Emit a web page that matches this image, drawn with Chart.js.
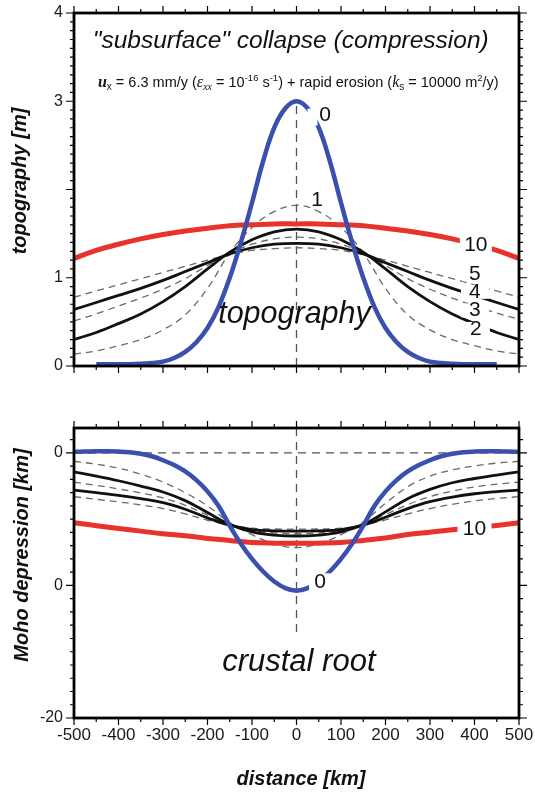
<!DOCTYPE html>
<html>
<head>
<meta charset="utf-8">
<script src="https://cdn.jsdelivr.net/npm/chart.js@4.4.1/dist/chart.umd.min.js"></script>
<style>
  html, body { margin: 0; padding: 0; background: #fff; }
  #wrap { position: relative; width: 535px; height: 793px; overflow: hidden; }
  canvas { position: absolute; left: 0; }
  #topo { top: 0; }
  #moho { top: 400px; }
</style>
</head>
<body>
<div id="wrap">
  <canvas id="topo" width="535" height="400" style="width:535px;height:400px"></canvas>
  <canvas id="moho" width="535" height="393" style="width:535px;height:393px"></canvas>
</div>
<script>
// ---- distances along the profile (km) ----
const distance = [-500,-450,-400,-350,-300,-250,-200,-150,-100,-50,0,50,100,150,200,250,300,350,400,450,500];
const distanceBlueTopo = [-450,-425,-400,-375,-350,-325,-300,-275,-250,-225,-200,-175,-150,-125,-100,-75,-50,-25,0,
                          25,50,75,100,125,150,175,200,225,250,275,300,325,350,375,400,425,450];
const distanceBlueMoho = [-500,-475,-450,-425,-400,-375,-350,-325,-300,-275,-250,-225,-200,-175,-150,-125,-100,-75,-50,-25,0,
                          25,50,75,100,125,150,175,200,225,250,275,300,325,350,375,400,425,450,475,500];

// ---- topography (m) after 0, 1, 2, 3, 4, 5 and 10 time steps ----
const topo0 = [0.02,0.02,0.02,0.02,0.025,0.035,0.05,0.09,0.16,0.27,0.43,0.67,1.00,1.40,1.85,2.32,2.70,2.92,3.00,
               2.92,2.70,2.32,1.85,1.40,1.00,0.67,0.43,0.27,0.16,0.09,0.05,0.035,0.025,0.02,0.02,0.02,0.02];
const topo1  = [0.135,0.17,0.23,0.30,0.41,0.58,0.88,1.28,1.57,1.75,1.82,1.75,1.57,1.28,0.88,0.58,0.41,0.30,0.23,0.17,0.135];
const topo2  = [0.30,0.38,0.48,0.59,0.73,0.90,1.10,1.29,1.43,1.52,1.55,1.52,1.43,1.29,1.10,0.90,0.73,0.59,0.48,0.38,0.30];
const topo3  = [0.51,0.59,0.68,0.77,0.87,0.99,1.14,1.28,1.38,1.44,1.46,1.44,1.38,1.28,1.14,0.99,0.87,0.77,0.68,0.60,0.53];
const topo4  = [0.64,0.72,0.80,0.88,0.97,1.07,1.17,1.27,1.34,1.38,1.39,1.38,1.34,1.27,1.17,1.07,0.97,0.88,0.80,0.72,0.64];
const topo5  = [0.78,0.85,0.92,0.99,1.06,1.13,1.20,1.26,1.31,1.33,1.34,1.33,1.31,1.26,1.20,1.13,1.06,0.99,0.92,0.85,0.78];
const topo10 = [1.22,1.31,1.38,1.44,1.49,1.53,1.56,1.59,1.60,1.61,1.61,1.61,1.60,1.59,1.56,1.53,1.49,1.44,1.38,1.31,1.22];

// ---- Moho depression (km) for the same steps ----
const moho0 = [0.08,0.10,0.12,0.12,0.10,0.05,-0.06,-0.25,-0.55,-0.92,-1.4,-2.05,-2.9,-4.0,-5.5,-6.85,-8.0,-8.95,-9.7,-10.2,-10.4,
               -10.2,-9.7,-8.95,-8.0,-6.85,-5.5,-4.0,-2.9,-2.05,-1.4,-0.92,-0.55,-0.25,-0.06,0.05,0.10,0.12,0.12,0.10,0.08];
const moho1  = [-0.63,-0.85,-1.15,-1.6,-2.2,-3.0,-4.0,-5.25,-6.17,-6.86,-7.14,-6.86,-6.17,-5.2,-3.8,-2.55,-1.75,-1.28,-0.98,-0.77,-0.63];
const moho2  = [-1.43,-1.75,-2.1,-2.5,-2.95,-3.6,-4.5,-5.4,-5.95,-6.2,-6.27,-6.2,-5.95,-5.4,-4.45,-3.45,-2.75,-2.25,-1.93,-1.67,-1.43];
const moho3  = [-2.2,-2.45,-2.72,-3.02,-3.4,-3.95,-4.7,-5.4,-5.85,-6.04,-6.1,-6.04,-5.85,-5.4,-4.65,-3.9,-3.3,-2.88,-2.57,-2.36,-2.2];
const moho4  = [-2.8,-3.0,-3.2,-3.45,-3.75,-4.25,-4.9,-5.45,-5.78,-5.88,-5.9,-5.88,-5.78,-5.45,-4.85,-4.2,-3.68,-3.33,-3.08,-2.92,-2.8];
const moho5  = [-3.3,-3.5,-3.7,-3.92,-4.2,-4.6,-5.08,-5.45,-5.68,-5.74,-5.75,-5.74,-5.68,-5.45,-5.05,-4.6,-4.2,-3.88,-3.62,-3.44,-3.3];
const moho10 = [-5.26,-5.5,-5.7,-5.9,-6.1,-6.25,-6.45,-6.6,-6.76,-6.81,-6.82,-6.81,-6.76,-6.6,-6.42,-6.16,-5.98,-5.8,-5.65,-5.48,-5.26];

// ---- axis ticks ----
const xTickValues = [-500,-400,-300,-200,-100,0,100,200,300,400,500];
const xTickLabels = ['-500','-400','-300','-200','-100','0','100','200','300','400','500'];
const topoTickValues = [0,1,2,3,4];
const topoTickLabels = ['0','1','','3','4'];
const mohoTickValues = [0,-10,-20];
const mohoTickLabels = ['0','0','-20'];

// ---- styles ----
const FONT = '"Liberation Sans", Arial, Helvetica, sans-serif';
const SERIF = '"Liberation Serif", "Times New Roman", serif';
const BLUE = '#3a4fae', RED = '#e8322c', BLACK = '#111111', GRAY = '#6a6a6a', REF = '#555555';

const styles = {
  blue:  { borderColor: BLUE,  borderWidth: 4.5, order: 1 },
  red:   { borderColor: RED,   borderWidth: 5,   order: 3 },
  black: { borderColor: BLACK, borderWidth: 2.8, order: 4 },
  dash:  { borderColor: GRAY,  borderWidth: 1.3, borderDash: [7, 5], order: 5 },
  ref:   { borderColor: REF,   borderWidth: 1.3, borderDash: [8, 6], order: 9, tension: 0 }
};

function points(xs, ys) { return xs.map((x, i) => ({ x: x, y: ys[i] })); }
function series(label, xs, ys, style) {
  return Object.assign({ label: label, data: points(xs, ys), pointRadius: 0, fill: false, tension: 0.4 }, style);
}

// frame, outward ticks, free text, curve labels
const decor = {
  id: 'decor',
  afterDatasetsDraw(chart, args, o) {
    const { ctx, scales: { x, y } } = chart;
    ctx.save();
    (o.curveLabels || []).forEach(l => {
      const bx = x.getPixelForValue(l.gap ? l.gap[0] : l.x);
      const by = y.getPixelForValue(l.gap ? l.gap[1] : l.y);
      if (l.box) {
        ctx.fillStyle = '#fff';
        ctx.fillRect(bx - l.box[0] / 2, by - l.box[1] / 2, l.box[0], l.box[1]);
      }
      ctx.fillStyle = '#111';
      ctx.font = '21px ' + FONT;
      ctx.textAlign = 'center';
      ctx.textBaseline = 'middle';
      ctx.fillText(l.text, x.getPixelForValue(l.x), y.getPixelForValue(l.y));
    });
    ctx.restore();
  },
  afterDraw(chart, args, o) {
    const { ctx, chartArea: a, scales: { x, y } } = chart;
    ctx.save();
    // free text placed in data coordinates
    (o.texts || []).forEach(t => {
      ctx.fillStyle = '#111';
      ctx.font = t.font;
      ctx.textAlign = t.align || 'center';
      ctx.textBaseline = 'alphabetic';
      ctx.fillText(t.text, x.getPixelForValue(t.x), y.getPixelForValue(t.y));
    });
    if (o.rich) drawRich(ctx, o.rich.parts, x.getPixelForValue(o.rich.x), y.getPixelForValue(o.rich.y));
    // axis titles (pixel positions in the canvas)
    (o.titles || []).forEach(t => {
      ctx.save();
      ctx.fillStyle = '#111';
      ctx.font = 'bold italic 20px ' + FONT;
      ctx.textAlign = 'center';
      ctx.textBaseline = 'middle';
      ctx.translate(t.px, t.py);
      if (t.rotate) ctx.rotate(-Math.PI / 2);
      ctx.fillText(t.text, 0, 0);
      ctx.restore();
    });
    // outward tick marks
    ctx.strokeStyle = '#000';
    ctx.lineWidth = 1.2;
    ctx.beginPath();
    for (let v = x.min; v <= x.max + 1e-9; v += 50) {
      const px = x.getPixelForValue(v);
      const len = Math.abs(v % 100) < 1e-9 ? 7 : 4;
      ctx.moveTo(px, a.top); ctx.lineTo(px, a.top - len);
      ctx.moveTo(px, a.bottom); ctx.lineTo(px, a.bottom + len);
    }
    const k0 = Math.ceil(y.min / o.yMinor - 1e-9), k1 = Math.floor(y.max / o.yMinor + 1e-9);
    for (let k = k0; k <= k1; k++) {
      const v = k * o.yMinor;
      const r = v / o.yMajor;
      const len = Math.abs(r - Math.round(r)) < 1e-6 ? 8 : 4;
      const py = y.getPixelForValue(v);
      ctx.moveTo(a.left, py); ctx.lineTo(a.left - len, py);
      ctx.moveTo(a.right, py); ctx.lineTo(a.right + len, py);
    }
    ctx.stroke();
    // frame
    ctx.lineWidth = 2.8;
    ctx.strokeRect(a.left, a.top, a.right - a.left, a.bottom - a.top);
    ctx.restore();
  }
};

function drawRich(ctx, parts, cx, baseY) {
  let w = 0;
  parts.forEach(p => { ctx.font = p.f; w += ctx.measureText(p.t).width; });
  let px = cx - w / 2;
  ctx.fillStyle = '#111';
  ctx.textAlign = 'left';
  ctx.textBaseline = 'alphabetic';
  parts.forEach(p => {
    ctx.font = p.f;
    ctx.fillText(p.t, px, baseY + (p.dy || 0));
    px += ctx.measureText(p.t).width;
  });
}

function axes(yMin, yMax, yTicks, yLabels, xHeight, showX) {
  return {
    x: {
      type: 'linear', min: -500, max: 500,
      grid: { display: false, drawTicks: false }, border: { display: false },
      afterBuildTicks: s => { s.ticks = xTickValues.map(v => ({ value: v })); },
      afterFit: s => { s.height = xHeight; s.paddingLeft = 0; s.paddingRight = 0; },
      ticks: {
        display: showX, autoSkip: false, maxRotation: 0, padding: 7, color: '#1a1a1a',
        font: { family: FONT, size: 17 },
        callback: v => xTickLabels[xTickValues.indexOf(v)]
      }
    },
    y: {
      type: 'linear', min: yMin, max: yMax,
      grid: { display: false, drawTicks: false }, border: { display: false },
      afterBuildTicks: s => { s.ticks = yTicks.map(v => ({ value: v })); },
      afterFit: s => { s.width = 74; s.paddingTop = 0; s.paddingBottom = 0; },
      ticks: {
        padding: 11, color: '#1a1a1a', font: { family: FONT, size: 16 },
        callback: v => yLabels[yTicks.indexOf(v)]
      }
    }
  };
}

const common = {
  responsive: false, animation: false, events: [],
  plugins: { legend: { display: false }, tooltip: { enabled: false } },
  elements: { point: { radius: 0 } }
};

// ---- upper panel: topography ----
new Chart(document.getElementById('topo'), {
  type: 'line',
  data: {
    datasets: [
      series('axis', [0, 0], [0, 3], styles.ref),
      series('1', distance, topo1, styles.dash),
      series('3', distance, topo3, styles.dash),
      series('5', distance, topo5, styles.dash),
      series('2', distance, topo2, styles.black),
      series('4', distance, topo4, styles.black),
      series('10', distance, topo10, styles.red),
      series('0', distanceBlueTopo, topo0, styles.blue)
    ]
  },
  options: Object.assign({}, common, {
    layout: { padding: { left: 0, right: 16, top: 13, bottom: 0 } },
    scales: axes(0, 4, topoTickValues, topoTickLabels, 34, false),
    plugins: Object.assign({}, common.plugins, {
      decor: {
        yMinor: 0.1, yMajor: 1,
        texts: [
          { text: '"subsurface" collapse (compression)', x: -13, y: 3.6, font: 'italic 24.5px ' + FONT },
          { text: 'topography', x: -176, y: 0.486, font: 'italic 30.5px ' + FONT, align: 'left' }
        ],
        rich: {
          x: 4, y: 3.16,
          parts: [
            { t: 'u', f: 'bold italic 16px ' + SERIF },
            { t: 'x', f: '10px ' + FONT, dy: 3 },
            { t: ' = 6.3 mm/y (', f: '14.5px ' + FONT },
            { t: 'ε', f: 'italic 16px ' + SERIF },
            { t: 'xx', f: 'italic 10px ' + SERIF, dy: 3 },
            { t: ' = 10', f: '14.5px ' + FONT },
            { t: '-16', f: '9.5px ' + FONT, dy: -6 },
            { t: ' s', f: '14.5px ' + FONT },
            { t: '-1', f: '9.5px ' + FONT, dy: -6 },
            { t: ') + rapid erosion (', f: '14.5px ' + FONT },
            { t: 'k', f: 'italic 16px ' + SERIF },
            { t: 's', f: '10px ' + FONT, dy: 3 },
            { t: ' = 10000 m', f: '14.5px ' + FONT },
            { t: '2', f: '9.5px ' + FONT, dy: -6 },
            { t: '/y)', f: '14.5px ' + FONT }
          ]
        },
        titles: [ { text: 'topography [m]', px: 20, py: 181, rotate: true } ],
        curveLabels: [
          { text: '0', x: 64, y: 2.84, gap: [36, 2.82], box: [10, 17] },
          { text: '1', x: 46, y: 1.88 },
          { text: '10', x: 403, y: 1.37, box: [32, 18] },
          { text: '5', x: 401, y: 1.04, box: [26, 14] },
          { text: '4', x: 401, y: 0.84, box: [28, 14] },
          { text: '3', x: 401, y: 0.63, box: [28, 14] },
          { text: '2', x: 403, y: 0.42, box: [28, 14] }
        ]
      }
    })
  }),
  plugins: [decor]
});

// ---- lower panel: Moho depression ----
new Chart(document.getElementById('moho'), {
  type: 'line',
  data: {
    datasets: [
      series('axis', [0, 0], [1.88, -13.8], styles.ref),
      series('datum', [-500, 500], [0, 0], styles.ref),
      series('1', distance, moho1, styles.dash),
      series('3', distance, moho3, styles.dash),
      series('5', distance, moho5, styles.dash),
      series('2', distance, moho2, styles.black),
      series('4', distance, moho4, styles.black),
      series('10', distance, moho10, styles.red),
      series('0', distanceBlueMoho, moho0, styles.blue)
    ]
  },
  options: Object.assign({}, common, {
    layout: { padding: { left: 0, right: 16, top: 28, bottom: 0 } },
    scales: axes(-20, 1.88, mohoTickValues, mohoTickLabels, 75, true),
    plugins: Object.assign({}, common.plugins, {
      decor: {
        yMinor: 1, yMajor: 10,
        texts: [
          { text: 'crustal root', x: -167, y: -16.44, font: 'italic 31px ' + FONT, align: 'left' }
        ],
        titles: [
          { text: 'Moho depression [km]', px: 22, py: 155, rotate: true },
          { text: 'distance [km]', px: 301, py: 379, rotate: false }
        ],
        curveLabels: [
          { text: '0', x: 53, y: -9.76, box: [22, 18] },
          { text: '10', x: 400, y: -5.79, box: [34, 18] }
        ]
      }
    })
  }),
  plugins: [decor]
});
</script>
</body>
</html>
